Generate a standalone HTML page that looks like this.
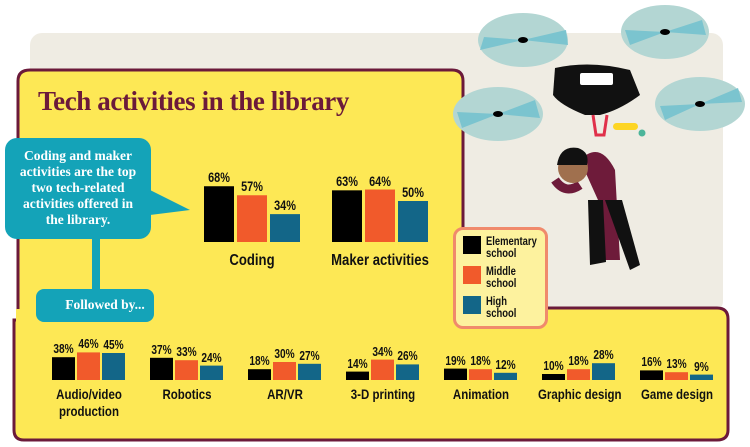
<!DOCTYPE html>
<html><head><style>
body{margin:0;width:750px;height:447px;background:#fff;position:relative;overflow:hidden;font-family:"Liberation Sans",sans-serif}
.a{position:absolute}
.t{position:absolute;font-family:"Liberation Sans",sans-serif;font-weight:bold;font-size:12px;color:#111;text-align:center;transform:scaleX(.78);white-space:nowrap}
.lbl{position:absolute;font-family:"Liberation Sans",sans-serif;font-weight:bold;font-size:13px;color:#111;text-align:center;line-height:15px;transform:scaleX(.82);white-space:nowrap}
.bub{font-family:"Liberation Serif",serif;font-weight:bold;color:#fff;text-align:center}
</style></head><body>
<svg class="a" style="left:0;top:0" width="750" height="447">
<rect x="30" y="33" width="693" height="280" rx="12" fill="#efece3"/>
<path d="M30,70 H452 Q463,70 463,81 V308 H717 Q728,308 728,319 V430 Q728,440 717,440 H24 Q14,440 14,430 V320 H18 V81 Q18,70 30,70 Z" fill="#fde855" stroke="#6b1a3a" stroke-width="3"/>
<rect x="16" y="309" width="10" height="15" fill="#fde855"/>
<g>
<ellipse cx="523" cy="40" rx="45" ry="27" fill="#b3d6d3"/><path d="M523,40 L566,30 L568,45Z M523,40 L480,50 L484,37Z" fill="#7bc4cf"/><ellipse cx="523" cy="40" rx="5" ry="3" fill="#000"/>
<ellipse cx="665" cy="32" rx="44" ry="27" fill="#b3d6d3"/><path d="M665,32 L706,35 L702,20Z M665,32 L625,30 L630,45Z" fill="#7bc4cf"/><ellipse cx="665" cy="32" rx="5" ry="3" fill="#000"/>
<ellipse cx="498" cy="114" rx="45" ry="27" fill="#b3d6d3"/><path d="M498,114 L540,118 L535,100Z M498,114 L457,112 L462,128Z" fill="#7bc4cf"/><ellipse cx="498" cy="114" rx="5" ry="3" fill="#000"/>
<ellipse cx="700" cy="104" rx="45" ry="27" fill="#b3d6d3"/><path d="M700,104 L742,102 L738,88Z M700,104 L660,106 L665,120Z" fill="#7bc4cf"/><ellipse cx="700" cy="104" rx="5" ry="3" fill="#000"/>
<path d="M555,68 Q590,60 630,70 L640,95 Q620,110 600,115 L585,115 Q560,105 553,95 Z" fill="#111"/>
<rect x="580" y="73" width="33" height="12" rx="2" fill="#fff"/>
<path d="M593,115 L596,135 L604,135 L607,115" fill="none" stroke="#e0304a" stroke-width="3"/>
<rect x="613" y="123" width="25" height="7" rx="3.5" fill="#fdd524"/><circle cx="642" cy="133" r="3.5" fill="#4cb59a"/>
<path d="M580,160 Q600,140 615,170 L620,260 L600,260 L598,200 Z" fill="#6e1b3a"/>
<path d="M580,185 Q565,195 555,180" stroke="#6e1b3a" stroke-width="9" fill="none"/>
<path d="M588,200 L590,265 L606,262 L603,200 Z M605,200 L630,270 L640,265 L622,200Z" fill="#111"/>
<circle cx="573" cy="168" r="15" fill="#a0704e"/><path d="M557,165 Q560,145 578,148 Q590,152 587,165 Z" fill="#111"/>
</g>
</svg>
<div class="a" style="left:38px;top:86px;font-family:'Liberation Serif',serif;font-weight:bold;font-size:27px;color:#6b1a3a;letter-spacing:-0.4px">Tech activities in the library</div>
<svg class="a" style="left:0;top:130px" width="200" height="200">
<rect x="5" y="8" width="146" height="101" rx="12" fill="#14a3b8"/>
<path d="M150,60 L190,80 L150,85Z" fill="#14a3b8"/>
<rect x="92" y="105" width="8" height="60" fill="#14a3b8"/>
<rect x="36" y="159" width="118" height="33" rx="8" fill="#14a3b8"/>
</svg>
<div class="a bub" style="left:13px;top:148px;width:130px;font-size:13.5px;line-height:16px">Coding and maker activities are the top two tech-related activities offered in the library.</div>
<div class="a bub" style="left:36px;top:297px;width:118px;font-size:13.5px;padding-left:10px">Followed by...</div>

<div class="a" style="left:453px;top:227px;width:89px;height:96px;border:3px solid #f08a6c;border-radius:10px;background:#fdf29e"></div>
<div class="a" style="left:463px;top:236px;width:18px;height:18px;background:#000"></div>
<div class="a" style="left:463px;top:266px;width:18px;height:18px;background:#f15a2b"></div>
<div class="a" style="left:463px;top:296px;width:18px;height:18px;background:#136688"></div>
<div class="lbl" style="left:486px;top:236px;text-align:left;font-size:11.5px;line-height:12px;transform-origin:left">Elementary<br>school</div>
<div class="lbl" style="left:486px;top:266px;text-align:left;font-size:11.5px;line-height:12px;transform-origin:left">Middle<br>school</div>
<div class="lbl" style="left:486px;top:296px;text-align:left;font-size:11.5px;line-height:12px;transform-origin:left">High<br>school</div>

<svg class="a" style="left:0;top:0" width="750" height="447" id="bars"></svg>
<div id="txt"></div>
<script>
(function(){
var s=document.getElementById('bars'),tx='',sv='',c=['#000','#f15a2b','#136688'];
function bar(x,w,v,base,k,ci,fs){var h=v*k;sv+='<rect x="'+x+'" y="'+(base-h)+'" width="'+w+'" height="'+h+'" fill="'+c[ci]+'"/>';tx+='<div class="t" style="left:'+(x-10)+'px;top:'+(base-h-fs-3)+'px;width:'+(w+20)+'px;font-size:'+fs+'px">'+v+'%</div>';}
var tg=[[204,[68,57,34],'Coding'],[332,[63,64,50],'Maker activities']];
tg.forEach(function(g){for(var i=0;i<3;i++)bar(g[0]+i*33,30,g[1][i],242,0.82,i,14);tx+='<div class="lbl" style="left:'+(g[0]-20)+'px;top:253px;width:136px;font-size:16px">'+g[2]+'</div>';});
var bg=[[36,[38,46,45],'Audio/video<br>production'],[104,[37,33,24],'Robotics'],[173,[18,30,27],'AR/VR'],[240,[14,34,26],'3-D printing'],[307,[19,18,12],'Animation'],[376,[10,18,28],'Graphic design'],[444,[16,13,9],'Game design']];
bg.forEach(function(g,j){var x0=52+98*j;for(var i=0;i<3;i++)bar(x0+i*25,23,g[1][i],380,0.6,i,13);tx+='<div class="lbl" style="left:'+(x0-13)+'px;top:386px;width:100px;font-size:14px;line-height:17px">'+g[2]+'</div>';});
s.innerHTML=sv;
document.getElementById('txt').innerHTML=tx;
})();
</script>
</body></html>
